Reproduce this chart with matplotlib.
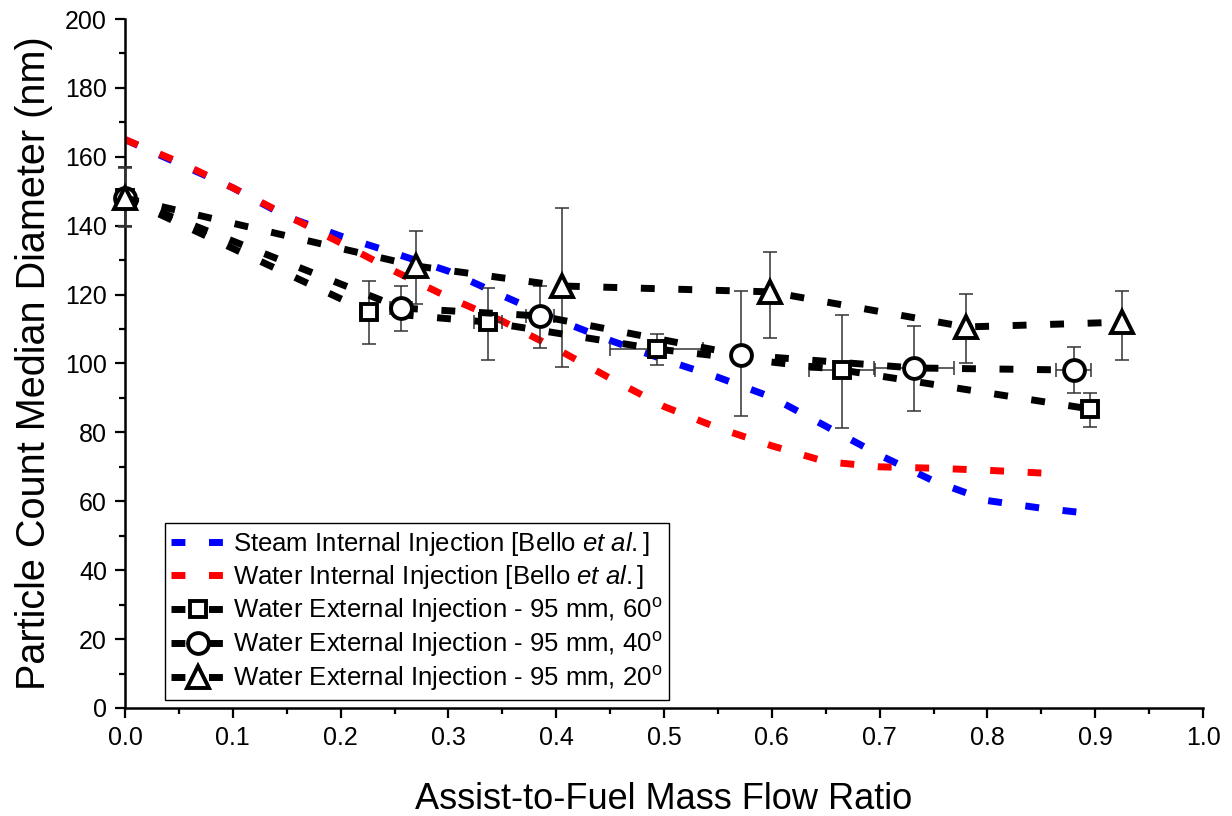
import matplotlib
matplotlib.use('Agg')
from matplotlib import pyplot as plt
from matplotlib.ticker import MultipleLocator

plt.rcParams['font.family'] = ['Liberation Sans', 'DejaVu Sans']
plt.rcParams['mathtext.fontset'] = 'custom'
plt.rcParams['mathtext.rm'] = 'Liberation Sans'
plt.rcParams['mathtext.it'] = 'Liberation Sans:italic'

# Bello et al. curves
steam_x = [0, 0.05, 0.1, 0.15, 0.2, 0.25, 0.3, 0.35, 0.4, 0.45, 0.5, 0.55,
           0.6, 0.65, 0.7, 0.75, 0.8, 0.85, 0.9]
steam_y = [165, 158, 151, 142.6, 137, 132, 126.8, 119.7, 112.8, 106.7, 101.1,
           96, 90.2, 81.8, 73.4, 65.9, 60.2, 58, 56.3]

water_x = [0, 0.05, 0.1, 0.15, 0.2, 0.25, 0.3, 0.35, 0.4, 0.45, 0.5, 0.55,
           0.6, 0.65, 0.7, 0.75, 0.8, 0.85]
water_y = [165, 158.5, 151, 143, 135, 126.8, 119.2, 112.3, 104.3, 95.7, 87.5,
           81.3, 76.1, 71.5, 70, 69.6, 69, 68.2]

# external injection, 60 deg
sq_x = [0, 0.226, 0.337, 0.493, 0.665, 0.895]
sq_y = [148, 115, 112, 104.2, 98.1, 86.8]
sq_lo = [140, 105.7, 101, 99.6, 81.3, 81.6]
sq_hi = [157, 124, 121.9, 108.6, 114, 91.4]
sq_xerr = [0, 0.008, 0.013, 0.043, 0.031, 0]

# external injection, 40 deg
ci_x = [0, 0.256, 0.385, 0.571, 0.732, 0.88]
ci_y = [148, 116.1, 113.8, 102.5, 98.7, 98.1]
ci_lo = [140, 109.4, 104.5, 84.8, 86.2, 91.4]
ci_hi = [157, 122.5, 122.5, 121, 111, 104.8]
ci_xerr = [0, 0.01, 0.013, 0, 0.037, 0.016]

# external injection, 20 deg
tr_x = [0, 0.27, 0.405, 0.598, 0.78, 0.925]
tr_y = [148, 128.3, 122.5, 120.8, 110.6, 112]
tr_lo = [139.7, 117.3, 99, 107.4, 100.1, 101]
tr_hi = [156.7, 138.5, 145, 132.4, 120.2, 121]

fig = plt.figure(figsize=(12.32, 8.16), dpi=100)
ax = fig.add_axes([0.1015, 0.1324, 0.875, 0.8443])

dash = (2, 3.4)
ax.plot(steam_x, steam_y, color='#0000ff', lw=5, dashes=dash,
        label='Steam Internal Injection [Bello $\\mathit{et\\ al.}$]')
ax.plot(water_x, water_y, color='#ff0000', lw=5, dashes=dash,
        label='Water Internal Injection [Bello $\\mathit{et\\ al.}$]')

series = [
    (sq_x, sq_y, sq_lo, sq_hi, sq_xerr, 's', 12, '60'),
    (ci_x, ci_y, ci_lo, ci_hi, ci_xerr, 'o', 15, '40'),
    (tr_x, tr_y, tr_lo, tr_hi, None, '^', 16, '20'),
]

for xs, ys, lo, hi, xe, mk, ms, ang in series:
    yerr = [[y - l for y, l in zip(ys, lo)], [h - y for y, h in zip(ys, hi)]]
    ax.errorbar(xs, ys, yerr=yerr, xerr=xe, fmt='none', ecolor='#333333',
                elinewidth=1.1, capsize=5, capthick=1.1, zorder=3, clip_on=False)
    ax.plot(xs, ys, color='black', lw=5, dashes=dash, marker=mk, ms=ms,
            mfc='white', mec='black', mew=2.8, zorder=4, clip_on=False,
            label='Water External Injection - 95 mm, %s$^{\\mathrm{o}}$' % ang)

ax.set_xlim(0, 1.0)
ax.set_ylim(0, 200)
ax.xaxis.set_major_locator(MultipleLocator(0.1))
ax.xaxis.set_minor_locator(MultipleLocator(0.05))
ax.yaxis.set_major_locator(MultipleLocator(20))
ax.yaxis.set_minor_locator(MultipleLocator(10))
ax.xaxis.set_major_formatter(matplotlib.ticker.FormatStrFormatter('%.1f'))

for s in ['top', 'right']:
    ax.spines[s].set_visible(False)
for s in ['left', 'bottom']:
    ax.spines[s].set_linewidth(1.8)

ax.tick_params(which='major', direction='out', length=7, width=1.6,
               labelsize=18, pad=6)
ax.tick_params(which='minor', direction='out', length=4, width=1.6)

ax.set_xlabel('Assist-to-Fuel Mass Flow Ratio', fontsize=26, labelpad=23)
ax.set_ylabel('Particle Count Median Diameter (nm)', fontsize=28.5, labelpad=9)

leg = ax.legend(loc='lower left', bbox_to_anchor=(0.037, 0.012), borderaxespad=0,
                fontsize=18.5, frameon=True, fancybox=False, framealpha=1,
                edgecolor='black', handlelength=2.1, handletextpad=0.3,
                labelspacing=0.2, borderpad=0.25)
leg.get_frame().set_linewidth(1.0)

fig.savefig('out.png', dpi=100)
